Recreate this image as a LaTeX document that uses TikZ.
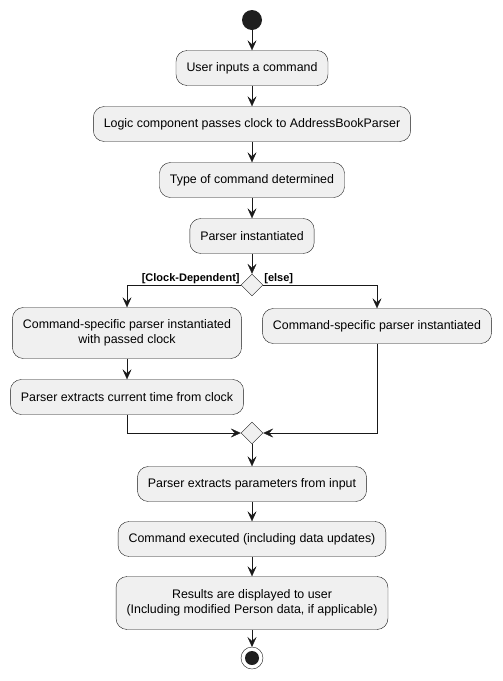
\documentclass[tikz,border=0pt]{standalone}
\usepackage{fontspec}
\setmainfont{Liberation Sans}
\usetikzlibrary{arrows.meta,shapes.geometric}

\begin{document}
\begin{tikzpicture}[x=1pt,y=1pt]
    \tikzstyle{every node}+=[font=\fontsize{12.4}{15.5}\selectfont]
    \tikzstyle{act}=[draw=black!90, fill=black!6, rounded corners=11pt, minimum height=35pt, inner xsep=10.5pt, align=center]
    \tikzstyle{branch}=[draw=black!90, fill=black!6, diamond, minimum width=22pt, minimum height=22pt, inner sep=0pt]
    \tikzstyle{flow}=[draw=black!90, -{Stealth[length=10pt,width=9pt,inset=4pt]}]
    \tikzstyle{guard}=[font=\fontsize{11}{13}\selectfont\bfseries, inner sep=1pt]
    \useasboundingbox (0,0) rectangle (503,-681);
    \fill [black!88] (252,-20) circle (10) coordinate (start);
    \node [act] (input) at (252,-68) {User inputs a command};
    \node [act] (logic) at (252,-124) {Logic component passes clock to AddressBookParser};
    \node [act] (type) at (252,-180) {Type of command determined};
    \node [act] (parser) at (252,-236) {Parser instantiated};
    \node [branch] (split) at (252,-285) {};
    \node [act, minimum height=51pt] (withclock) at (127,-333) {Command-specific parser instantiated\\with passed clock};
    \node [act] (plain) at (377,-326) {Command-specific parser instantiated};
    \node [act] (time) at (127,-397) {Parser extracts current time from clock};
    \node [branch] (merge) at (252,-433) {};
    \node [act] (params) at (252,-484) {Parser extracts parameters from input};
    \node [act] (exec) at (252,-539) {Command executed (including data updates)};
    \node [act, minimum height=53pt] (result) at (252,-603) {Results are displayed to user\\(Including modified Person data, if applicable)};
    \draw [black!90, fill=white] (252,-658) circle (11);
    \fill [black!88] (252,-658) circle (7);
    \coordinate (stop) at (252,-647);
    \draw [flow] (252,-30) -- (input);
    \draw [flow] (input) -- (logic);
    \draw [flow] (logic) -- (type);
    \draw [flow] (type) -- (parser);
    \draw [flow] (parser) -- (split);
    \draw [flow] (split.west) -| (withclock);
    \draw [flow] (split.east) -| (plain);
    \draw (split.west) node [guard, above left] {[Clock-Dependent]};
    \draw (split.east) node [guard, above right] {[else]};
    \draw [flow] (withclock) -- (time);
    \draw [flow] (time.south) |- (merge.west);
    \draw [flow] (plain.south) |- (merge.east);
    \draw [flow] (merge) -- (params);
    \draw [flow] (params) -- (exec);
    \draw [flow] (exec) -- (result);
    \draw [flow] (result) -- (stop);
\end{tikzpicture}
\end{document}
